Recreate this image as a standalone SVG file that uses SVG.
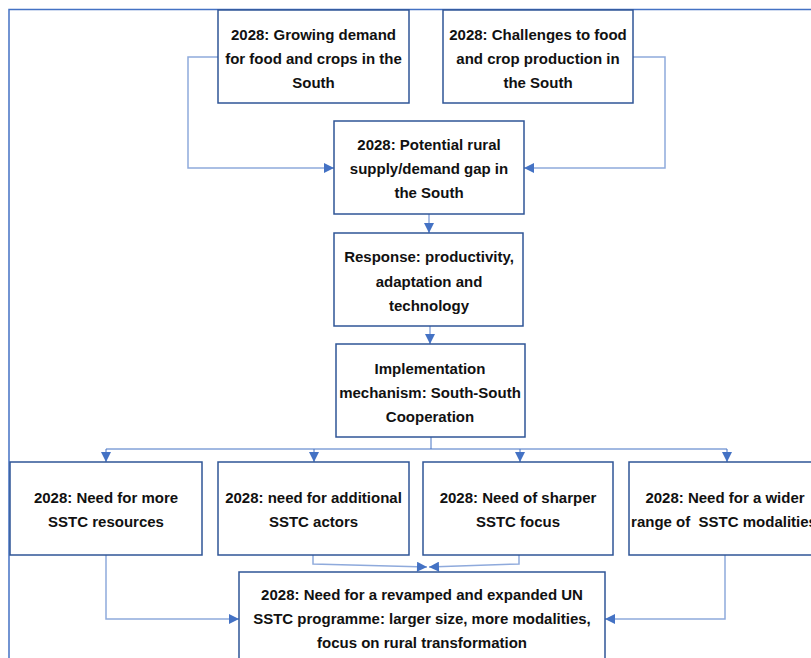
<svg xmlns="http://www.w3.org/2000/svg" width="811" height="658" viewBox="0 0 811 658">
<defs>
<style>
.box{fill:#fff;stroke:#2F5597;stroke-width:1.5}
.frame{fill:none;stroke:#4472C4;stroke-width:1.5}
.c{fill:none;stroke:#8FAADC;stroke-width:1.5}
.c2{fill:none;stroke:#4472C4;stroke-width:1}
text{font-family:"Liberation Sans",Arial,sans-serif;font-weight:bold;font-size:15px;fill:#111;text-anchor:middle}
</style>
<marker id="ah" viewBox="0 0 10 10" refX="10" refY="5" markerWidth="12" markerHeight="10" markerUnits="userSpaceOnUse" orient="auto">
<path d="M0,0 L10,5 L0,10 z" fill="#4472C4"/>
</marker>
</defs>
<rect x="0" y="0" width="811" height="658" fill="#fff"/>
<rect class="frame" x="9" y="9.5" width="900" height="700"/>
<g id="connectors">
<path class="c" d="M218 57 H188 V168 H334" marker-end="url(#ah)"/>
<path class="c" d="M633 57 H665 V168 H524" marker-end="url(#ah)"/>
<path class="c" d="M429 214 V233" marker-end="url(#ah)"/>
<path class="c" d="M430 326 V344" marker-end="url(#ah)"/>
<path class="c2" d="M431 437 V449 M106 449 H727"/>
<path class="c2" d="M106 449 V462" marker-end="url(#ah)"/>
<path class="c2" d="M314 449 V462" marker-end="url(#ah)"/>
<path class="c2" d="M520 449 V462" marker-end="url(#ah)"/>
<path class="c2" d="M727 449 V462" marker-end="url(#ah)"/>
<path class="c" d="M106 555 V619 H239" marker-end="url(#ah)"/>
<path class="c" d="M725 555 V619 H605" marker-end="url(#ah)"/>
<path class="c" d="M313 555 V564 L427 567" marker-end="url(#ah)"/>
<path class="c" d="M519 555 V564 L429 567" marker-end="url(#ah)"/>
</g>
<g id="n1"><rect class="box" x="218" y="10" width="191" height="93"/>
<text x="313.5" y="40">2028: Growing demand</text><text x="313.5" y="64">for food and crops in the</text><text x="313.5" y="88">South</text></g>
<g id="n2"><rect class="box" x="443" y="10" width="190" height="93"/>
<text x="538" y="40">2028: Challenges to food</text><text x="538" y="64">and crop production in</text><text x="538" y="88">the South</text></g>
<g id="n3"><rect class="box" x="334" y="121" width="190" height="93"/>
<text x="429" y="150">2028: Potential rural</text><text x="429" y="174">supply/demand gap in</text><text x="429" y="198">the South</text></g>
<g id="n4"><rect class="box" x="334" y="233" width="189" height="93"/>
<text x="429" y="262">Response: productivity,</text><text x="429" y="287">adaptation and</text><text x="429" y="311">technology</text></g>
<g id="n5"><rect class="box" x="336" y="344" width="189" height="93"/>
<text x="430" y="374">Implementation</text><text x="430" y="398">mechanism: South-South</text><text x="430" y="422">Cooperation</text></g>
<g id="n6"><rect class="box" x="10" y="462" width="192" height="93"/>
<text x="106" y="503">2028: Need for more</text><text x="106" y="527">SSTC resources</text></g>
<g id="n7"><rect class="box" x="218" y="462" width="191" height="93"/>
<text x="313.5" y="503">2028: need for additional</text><text x="313.5" y="527">SSTC actors</text></g>
<g id="n8"><rect class="box" x="423" y="462" width="190" height="93"/>
<text x="518" y="503">2028: Need of sharper</text><text x="518" y="527">SSTC focus</text></g>
<g id="n9"><rect class="box" x="629" y="462" width="192" height="93"/>
<text x="725" y="503">2028: Need for a wider</text><text x="724" y="527">range of&#160; SSTC modalities</text></g>
<g id="n10"><rect class="box" x="239" y="572" width="366" height="100"/>
<text x="422" y="600">2028: Need for a revamped and expanded UN</text><text x="422" y="624">SSTC programme: larger size, more modalities,</text><text x="422" y="648">focus on rural transformation</text></g>
</svg>
